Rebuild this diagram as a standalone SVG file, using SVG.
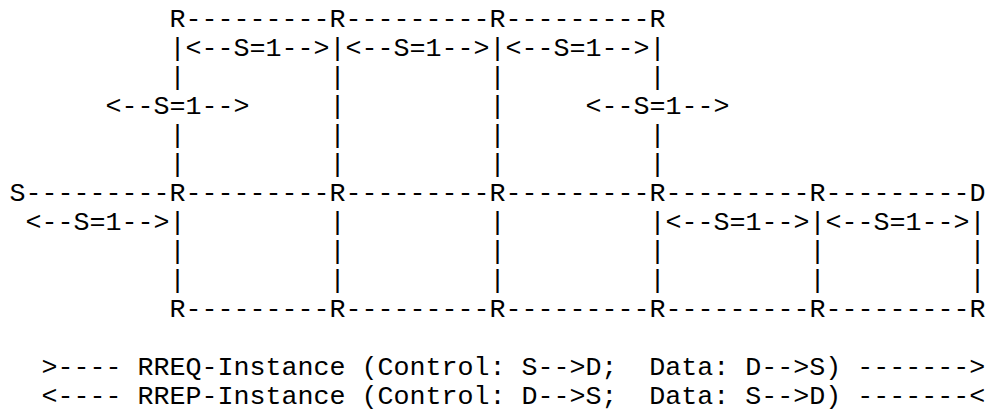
<svg xmlns="http://www.w3.org/2000/svg" width="988" height="412" viewBox="0 0 988 412">
<style>
text { font-family: "Liberation Mono", "Courier New", monospace; font-size: 26.667px; fill: #000; white-space: pre; }
</style>
<rect width="988" height="412" fill="#fff"/>
<g id="connectors">
  <!-- horizontal links, row 0 -->
  <text x="185.5" y="27">---------</text>
  <text x="345.5" y="27">---------</text>
  <text x="505.5" y="27">---------</text>
  <!-- horizontal links, row 6 -->
  <text x="25.5" y="201">---------</text>
  <text x="185.5" y="201">---------</text>
  <text x="345.5" y="201">---------</text>
  <text x="505.5" y="201">---------</text>
  <text x="665.5" y="201">---------</text>
  <text x="825.5" y="201">---------</text>
  <!-- horizontal links, row 10 -->
  <text x="185.5" y="317">---------</text>
  <text x="345.5" y="317">---------</text>
  <text x="505.5" y="317">---------</text>
  <text x="665.5" y="317">---------</text>
  <text x="825.5" y="317">---------</text>
  <!-- vertical links, upper -->
  <text x="169.5"><tspan x="169.5" y="56">|</tspan><tspan x="169.5" y="85">|</tspan><tspan x="169.5" y="143">|</tspan><tspan x="169.5" y="172">|</tspan></text>
  <text x="329.5"><tspan x="329.5" y="56">|</tspan><tspan x="329.5" y="85">|</tspan><tspan x="329.5" y="114">|</tspan><tspan x="329.5" y="143">|</tspan><tspan x="329.5" y="172">|</tspan></text>
  <text x="489.5"><tspan x="489.5" y="56">|</tspan><tspan x="489.5" y="85">|</tspan><tspan x="489.5" y="114">|</tspan><tspan x="489.5" y="143">|</tspan><tspan x="489.5" y="172">|</tspan></text>
  <text x="649.5"><tspan x="649.5" y="56">|</tspan><tspan x="649.5" y="85">|</tspan><tspan x="649.5" y="143">|</tspan><tspan x="649.5" y="172">|</tspan></text>
  <!-- vertical links, lower -->
  <text x="169.5"><tspan x="169.5" y="230">|</tspan><tspan x="169.5" y="259">|</tspan><tspan x="169.5" y="288">|</tspan></text>
  <text x="329.5"><tspan x="329.5" y="230">|</tspan><tspan x="329.5" y="259">|</tspan><tspan x="329.5" y="288">|</tspan></text>
  <text x="489.5"><tspan x="489.5" y="230">|</tspan><tspan x="489.5" y="259">|</tspan><tspan x="489.5" y="288">|</tspan></text>
  <text x="649.5"><tspan x="649.5" y="230">|</tspan><tspan x="649.5" y="259">|</tspan><tspan x="649.5" y="288">|</tspan></text>
  <text x="809.5"><tspan x="809.5" y="230">|</tspan><tspan x="809.5" y="259">|</tspan><tspan x="809.5" y="288">|</tspan></text>
  <text x="969.5"><tspan x="969.5" y="230">|</tspan><tspan x="969.5" y="259">|</tspan><tspan x="969.5" y="288">|</tspan></text>
</g>
<g id="labels">
  <text x="185.5" y="56">&lt;--S=1--&gt;</text>
  <text x="345.5" y="56">&lt;--S=1--&gt;</text>
  <text x="505.5" y="56">&lt;--S=1--&gt;</text>
  <text x="105.5" y="114">&lt;--S=1--&gt;</text>
  <text x="585.5" y="114">&lt;--S=1--&gt;</text>
  <text x="25.5" y="230">&lt;--S=1--&gt;</text>
  <text x="665.5" y="230">&lt;--S=1--&gt;</text>
  <text x="825.5" y="230">&lt;--S=1--&gt;</text>
</g>
<g id="node-R-top-1"><text x="169.5" y="27">R</text></g>
<g id="node-R-top-2"><text x="329.5" y="27">R</text></g>
<g id="node-R-top-3"><text x="489.5" y="27">R</text></g>
<g id="node-R-top-4"><text x="649.5" y="27">R</text></g>
<g id="node-S"><text x="9.5" y="201">S</text></g>
<g id="node-R-mid-1"><text x="169.5" y="201">R</text></g>
<g id="node-R-mid-2"><text x="329.5" y="201">R</text></g>
<g id="node-R-mid-3"><text x="489.5" y="201">R</text></g>
<g id="node-R-mid-4"><text x="649.5" y="201">R</text></g>
<g id="node-R-mid-5"><text x="809.5" y="201">R</text></g>
<g id="node-D"><text x="969.5" y="201">D</text></g>
<g id="node-R-bot-1"><text x="169.5" y="317">R</text></g>
<g id="node-R-bot-2"><text x="329.5" y="317">R</text></g>
<g id="node-R-bot-3"><text x="489.5" y="317">R</text></g>
<g id="node-R-bot-4"><text x="649.5" y="317">R</text></g>
<g id="node-R-bot-5"><text x="809.5" y="317">R</text></g>
<g id="node-R-bot-6"><text x="969.5" y="317">R</text></g>
<g id="legend">
  <text x="41.5" y="375">&gt;---- RREQ-Instance (Control: S--&gt;D;  Data: D--&gt;S) -------&gt;</text>
  <text x="41.5" y="404">&lt;---- RREP-Instance (Control: D--&gt;S;  Data: S--&gt;D) -------&lt;</text>
</g>
</svg>
